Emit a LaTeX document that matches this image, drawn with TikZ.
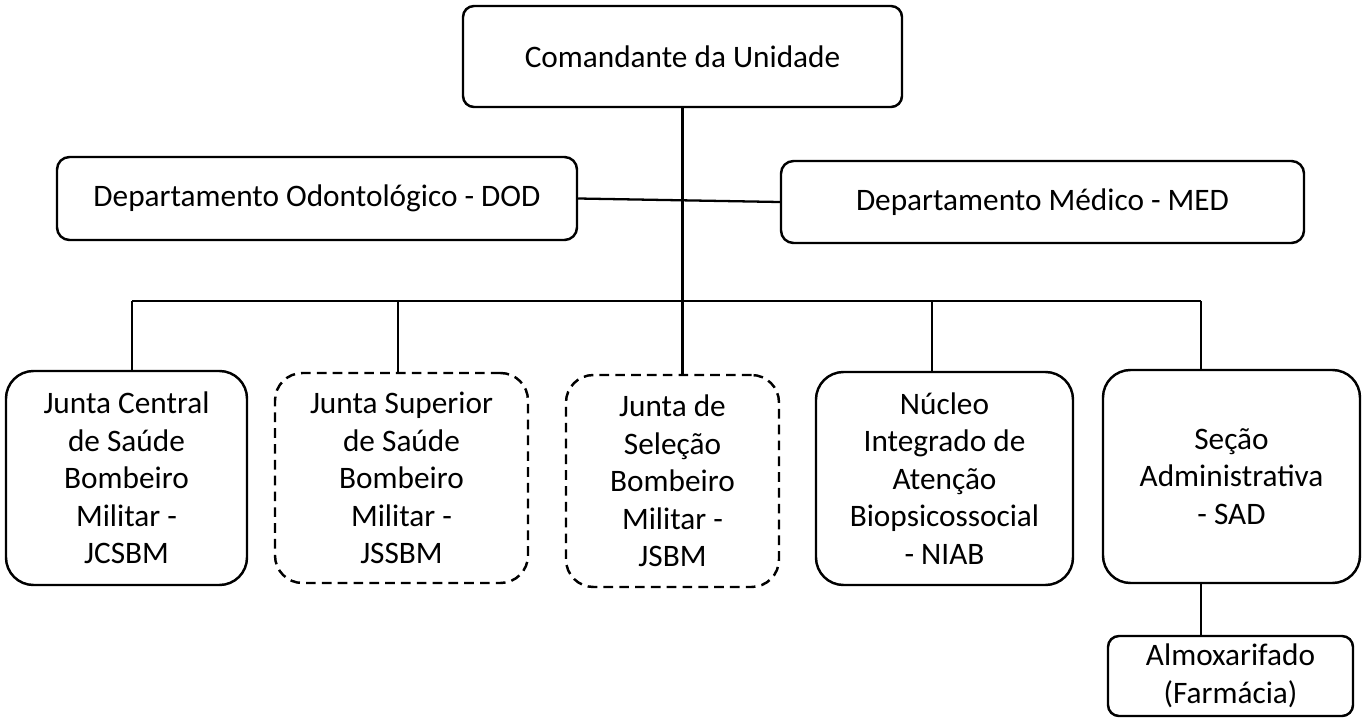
\documentclass[tikz,border=0pt]{standalone}
\usepackage{fontspec}
\setmainfont{Carlito}
\begin{document}
\begin{tikzpicture}[
	font=\fontsize{17.8}{21.4}\selectfont,
	unit/.style={draw, line width=1.4pt, rounded corners=#1, align=center, inner sep=0pt},
	unit/.default=0.25cm,
	board/.style={unit=0.55cm},
	tempboard/.style={unit=0.55cm, dash pattern=on 5.5pt off 3.5pt},
	link/.style={line width=1.3pt}
]
	\useasboundingbox (0,0) rectangle (27.32,-14.4);

	\node[unit=0.22cm, minimum width=8.78cm, minimum height=2.02cm] (com) at (13.65,-1.13) {Comandante da Unidade};
	\node[unit, minimum width=10.40cm, minimum height=1.66cm] (dod) at (6.34,-3.97) {Departamento Odontológico - DOD};
	\node[unit, minimum width=10.46cm, minimum height=1.64cm] (med) at (20.85,-4.04) {Departamento Médico - MED};

	\node[board, minimum width=4.82cm, minimum height=4.28cm] (jcsbm) at (2.53,-9.56) {Junta Central\\de Saúde\\Bombeiro\\Militar -\\JCSBM};
	\node[tempboard, minimum width=5.06cm, minimum height=4.20cm] (jssbm) at (8.03,-9.56) {Junta Superior\\de Saúde\\Bombeiro\\Militar -\\JSSBM};
	\node[tempboard, minimum width=4.26cm, minimum height=4.24cm] (jsbm) at (13.45,-9.62) {Junta de\\Seleção\\Bombeiro\\Militar -\\JSBM};
	\node[board, minimum width=5.14cm, minimum height=4.26cm] (niab) at (18.89,-9.57) {Núcleo\\Integrado de\\Atenção\\Biopsicossocial\\- NIAB};
	\node[board, minimum width=5.14cm, minimum height=4.26cm] (sad) at (24.63,-9.53) {Seção\\Administrativa\\- SAD};
	\node[unit=0.22cm, minimum width=4.90cm, minimum height=1.60cm] (almox) at (24.61,-13.52) {Almoxarifado\\(Farmácia)};

	\coordinate (t1) at (2.64,-6.02);
	\coordinate (t2) at (7.96,-6.02);
	\coordinate (t3) at (18.64,-6.02);
	\coordinate (t4) at (24.02,-6.02);

	\draw[link] (dod.east) -- (med.west);
	\draw[link] (com.south) -- (com.south |- jsbm.north);
	\draw[link] (t1) -- (t4);
	\draw[link] (t1) -- (t1 |- jcsbm.north);
	\draw[link] (t2) -- (t2 |- jssbm.north);
	\draw[link] (t3) -- (t3 |- niab.north);
	\draw[link] (t4) -- (t4 |- sad.north);
	\draw[link] (t4 |- sad.south) -- (t4 |- almox.north);
\end{tikzpicture}
\end{document}
